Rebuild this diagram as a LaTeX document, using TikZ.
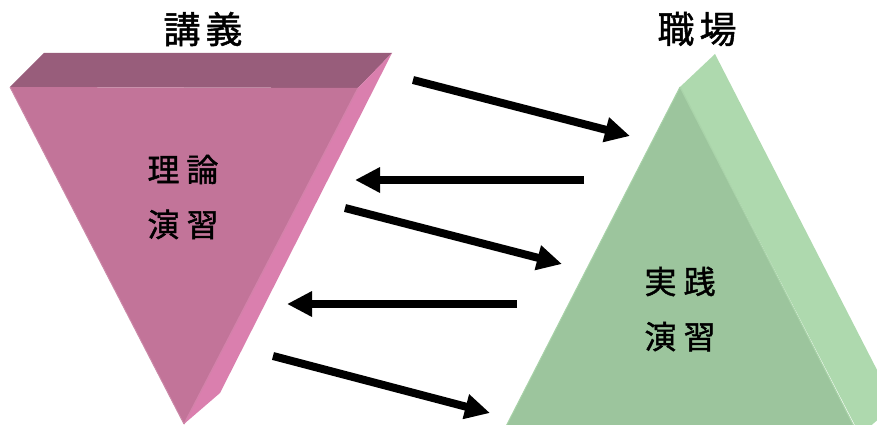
\documentclass[tikz,border=0pt]{standalone}
\usepackage{fontspec}
\newfontfamily\cjk[FakeBold=1.3]{Noto Sans CJK JP}
\usetikzlibrary{arrows.meta}
\definecolor{pinktop}{HTML}{985D7B}
\definecolor{pinkfront}{HTML}{C27499}
\definecolor{pinkside}{HTML}{DA7FAE}
\definecolor{pinkedge}{HTML}{D382AA}
\definecolor{greenfront}{HTML}{9CC59D}
\definecolor{greenside}{HTML}{AED9AE}
\definecolor{greenedge}{HTML}{A9D3A9}
\tikzset{
  flow/.style={line width=8pt, -{Triangle[length=25pt,width=24pt]}},
  title/.style={font=\cjk\fontsize{37}{40}\selectfont, inner sep=0pt},
  inner/.style={font=\cjk\fontsize{32}{55}\selectfont, inner sep=0pt, align=center},
}
\begin{document}
\begin{tikzpicture}[x=1pt,y=-1pt]
\useasboundingbox (0,0) rectangle (877,425);
\begin{scope}
\clip (0,0) rectangle (877,425);
% pink inverted prism
\fill[pinktop] (10,87) -- (44,53) -- (392,53) -- (358,88) -- cycle;
\fill[pinkside] (358,88) -- (392,53) -- (220,393) -- (184,424) -- cycle;
\fill[pinkfront] (10,87) -- (358,88) -- (184,424) -- cycle;
\draw[pinkedge, line width=1.2pt] (358,88) -- (184,424);
\draw[pinkfront!85!white, line width=1pt] (10,87) -- (184,424);
% green prism
\fill[greenside] (680,87) -- (715,54) -- (895,405) -- (860,435) -- cycle;
\fill[greenfront] (680,87) -- (860,438) -- (500,438) -- cycle;
\draw[greenedge, line width=1.2pt] (680,87) -- (860,438);
\draw[greenedge, line width=1pt] (680,87) -- (500,438);
\end{scope}
% labels
\node[title] (lec) at (203,29) {講\hspace{5pt}義};
\node[title] (job) at (697,29) {職\hspace{5pt}場};
\node[inner] (theory) at (183,197) {理\hspace{7pt}論\\演\hspace{7pt}習};
\node[inner] (practice) at (680,309) {実\hspace{7pt}践\\演\hspace{7pt}習};
% arrows
\coordinate (a1s) at (413,80);  \coordinate (a1e) at (630,136);
\coordinate (a2s) at (584,180); \coordinate (a2e) at (355,180);
\coordinate (a3s) at (345,208); \coordinate (a3e) at (562,264);
\coordinate (a4s) at (517,304); \coordinate (a4e) at (287,304);
\coordinate (a5s) at (273,356); \coordinate (a5e) at (490,413);
\draw[flow] (a1s) -- (a1e);
\draw[flow] (a2s) -- (a2e);
\draw[flow] (a3s) -- (a3e);
\draw[flow] (a4s) -- (a4e);
\draw[flow] (a5s) -- (a5e);
\end{tikzpicture}
\end{document}
